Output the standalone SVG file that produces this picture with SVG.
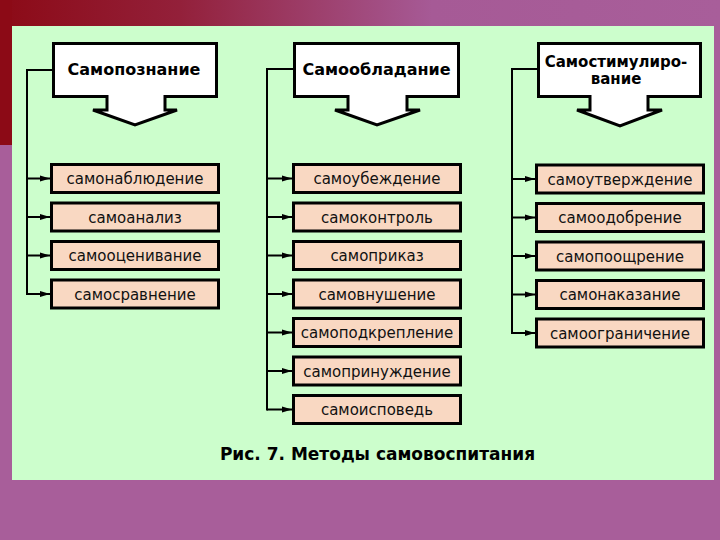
<svg xmlns="http://www.w3.org/2000/svg" width="720" height="540" viewBox="0 0 720 540">
<defs>
<linearGradient id="topbar" x1="0" y1="0" x2="1" y2="0">
<stop offset="0" stop-color="#8C0A16"/>
<stop offset="0.25" stop-color="#93203A"/>
<stop offset="0.6" stop-color="#A65A96"/>
<stop offset="1" stop-color="#A85E9A"/>
</linearGradient>
<marker id="ah" markerWidth="10" markerHeight="7" refX="10" refY="3.5" orient="auto" markerUnits="userSpaceOnUse">
<path d="M0,0.5 L10,3.5 L0,6.5 Z" fill="#000"/>
</marker>
<style>
.head{fill:#fff;stroke:#000;stroke-width:3;stroke-linejoin:miter}
.ht{font-family:"DejaVu Sans","Liberation Sans",sans-serif;font-weight:bold;font-size:16px;fill:#000;text-anchor:middle}
.ht2{font-family:"DejaVu Sans","Liberation Sans",sans-serif;font-weight:bold;font-size:15px;fill:#000;text-anchor:middle}
.box{fill:#F9D8C2;stroke:#000;stroke-width:3}
.bt{font-family:"DejaVu Sans","Liberation Sans",sans-serif;font-size:15px;fill:#111;text-anchor:middle}
.ln{fill:none;stroke:#000;stroke-width:2}
.ar{fill:none;stroke:#000;stroke-width:2;marker-end:url(#ah)}
.cap{font-family:"DejaVu Sans","Liberation Sans",sans-serif;font-weight:bold;font-size:17px;fill:#000;text-anchor:middle}
</style>
</defs>
<rect x="0" y="0" width="720" height="540" fill="#A85E9A"/>
<rect x="0" y="0" width="720" height="26" fill="url(#topbar)"/>
<rect x="0" y="0" width="12" height="145" fill="#8C0A16"/>
<rect x="12" y="26" width="702" height="454" fill="#CCFECC"/>

<g id="connectors">
<path class="ln" d="M52,70 H27 V295"/>
<path class="ar" d="M27,178.5 H50"/>
<path class="ar" d="M27,217 H50"/>
<path class="ar" d="M27,255.5 H50"/>
<path class="ar" d="M27,294 H50"/>
<path class="ln" d="M293,69 H267 V410.5"/>
<path class="ar" d="M267,178.5 H292"/>
<path class="ar" d="M267,217 H292"/>
<path class="ar" d="M267,255.5 H292"/>
<path class="ar" d="M267,294 H292"/>
<path class="ar" d="M267,332.5 H292"/>
<path class="ar" d="M267,371 H292"/>
<path class="ar" d="M267,409.5 H292"/>
<path class="ln" d="M537,69 H512 V334"/>
<path class="ar" d="M512,179 H535"/>
<path class="ar" d="M512,217.5 H535"/>
<path class="ar" d="M512,256 H535"/>
<path class="ar" d="M512,294.5 H535"/>
<path class="ar" d="M512,333 H535"/>
</g>

<g id="h1">
<path class="head" d="M53.5,43.5 H216.5 V96.5 H165 V110 H177 L135,125 L93,110 H107 V96.5 H53.5 Z"/>
<text class="ht" x="134" y="75">Самопознание</text>
</g>
<g id="h2">
<path class="head" d="M294.5,43.5 H458.5 V96.5 H407 V110 H420 L377,125 L335,110 H348 V96.5 H294.5 Z"/>
<text class="ht" x="376.5" y="75">Самообладание</text>
</g>
<g id="h3">
<path class="head" d="M538.5,43.5 H700.5 V96.5 H648 V110 H662 L620,126 L577,110 H590 V96.5 H538.5 Z"/>
<text class="ht2" x="616" y="67">Самостимулиро-</text>
<text class="ht2" x="616" y="84">вание</text>
</g>

<g id="c1a"><rect class="box" x="51.5" y="164.5" width="167" height="28"/><text class="bt" x="135" y="184">самонаблюдение</text></g>
<g id="c1b"><rect class="box" x="51.5" y="203" width="167" height="28"/><text class="bt" x="135" y="222.5">самоанализ</text></g>
<g id="c1c"><rect class="box" x="51.5" y="241.5" width="167" height="28"/><text class="bt" x="135" y="261">самооценивание</text></g>
<g id="c1d"><rect class="box" x="51.5" y="280" width="167" height="28"/><text class="bt" x="135" y="299.5">самосравнение</text></g>

<g id="c2a"><rect class="box" x="293.5" y="164.5" width="167" height="28"/><text class="bt" x="377" y="184">самоубеждение</text></g>
<g id="c2b"><rect class="box" x="293.5" y="203" width="167" height="28"/><text class="bt" x="377" y="222.5">самоконтроль</text></g>
<g id="c2c"><rect class="box" x="293.5" y="241.5" width="167" height="28"/><text class="bt" x="377" y="261">самоприказ</text></g>
<g id="c2d"><rect class="box" x="293.5" y="280" width="167" height="28"/><text class="bt" x="377" y="299.5">самовнушение</text></g>
<g id="c2e"><rect class="box" x="293.5" y="318.5" width="167" height="28"/><text class="bt" x="377" y="338">самоподкрепление</text></g>
<g id="c2f"><rect class="box" x="293.5" y="357" width="167" height="28"/><text class="bt" x="377" y="376.5">самопринуждение</text></g>
<g id="c2g"><rect class="box" x="293.5" y="395.5" width="167" height="28"/><text class="bt" x="377" y="415">самоисповедь</text></g>

<g id="c3a"><rect class="box" x="536.5" y="165" width="167" height="28"/><text class="bt" x="620" y="184.5">самоутверждение</text></g>
<g id="c3b"><rect class="box" x="536.5" y="203.5" width="167" height="28"/><text class="bt" x="620" y="223">самоодобрение</text></g>
<g id="c3c"><rect class="box" x="536.5" y="242" width="167" height="28"/><text class="bt" x="620" y="261.5">самопоощрение</text></g>
<g id="c3d"><rect class="box" x="536.5" y="280.5" width="167" height="28"/><text class="bt" x="620" y="300">самонаказание</text></g>
<g id="c3e"><rect class="box" x="536.5" y="319" width="167" height="28"/><text class="bt" x="620" y="338.5">самоограничение</text></g>

<text class="cap" x="377.5" y="460">Рис. 7. Методы самовоспитания</text>
</svg>
